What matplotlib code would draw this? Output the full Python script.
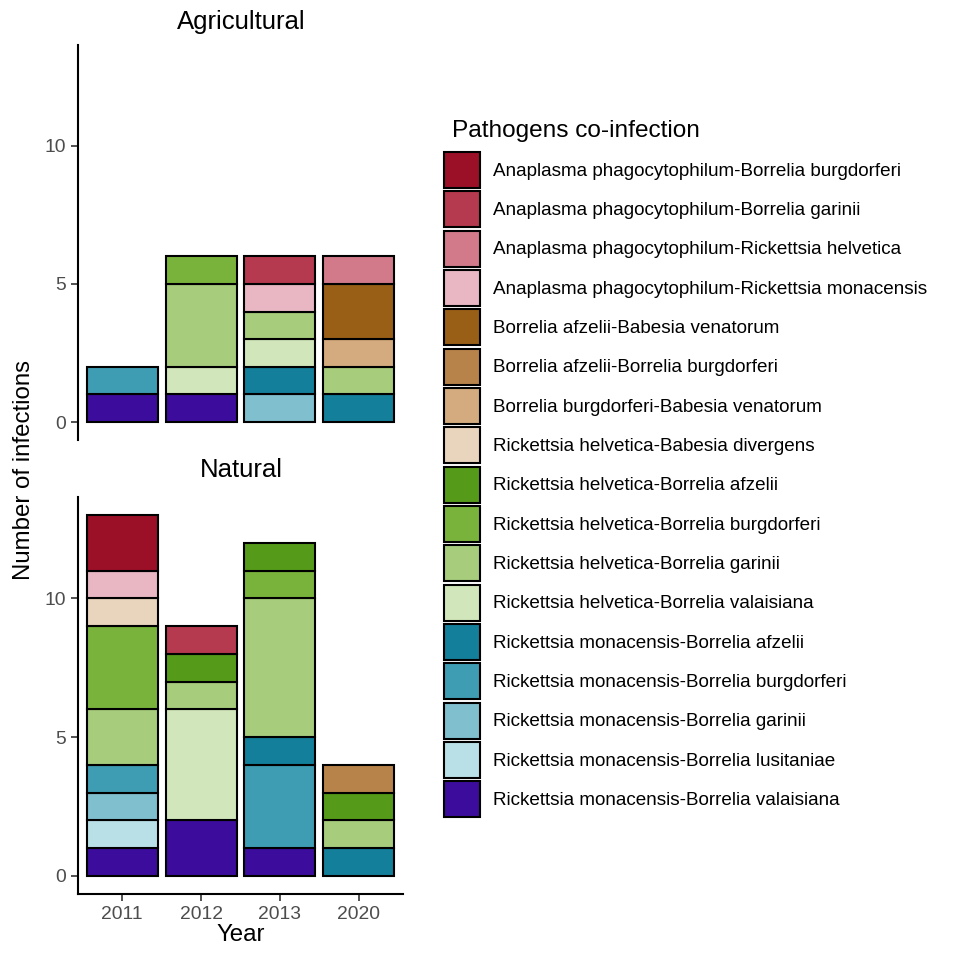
import numpy as np
from matplotlib import pyplot as plt
from matplotlib.patches import Patch

plt.rcParams['font.family'] = ['Liberation Sans', 'DejaVu Sans']

years = ['2011', '2012', '2013', '2020']

pathogens = [
    'Anaplasma phagocytophilum-Borrelia burgdorferi',
    'Anaplasma phagocytophilum-Borrelia garinii',
    'Anaplasma phagocytophilum-Rickettsia helvetica',
    'Anaplasma phagocytophilum-Rickettsia monacensis',
    'Borrelia afzelii-Babesia venatorum',
    'Borrelia afzelii-Borrelia burgdorferi',
    'Borrelia burgdorferi-Babesia venatorum',
    'Rickettsia helvetica-Babesia divergens',
    'Rickettsia helvetica-Borrelia afzelii',
    'Rickettsia helvetica-Borrelia burgdorferi',
    'Rickettsia helvetica-Borrelia garinii',
    'Rickettsia helvetica-Borrelia valaisiana',
    'Rickettsia monacensis-Borrelia afzelii',
    'Rickettsia monacensis-Borrelia burgdorferi',
    'Rickettsia monacensis-Borrelia garinii',
    'Rickettsia monacensis-Borrelia lusitaniae',
    'Rickettsia monacensis-Borrelia valaisiana',
]

colors = ['#9b1027', '#b5394f', '#d27a8a', '#e8b7c3', '#9a5f17', '#b8834a',
          '#d3ab7e', '#e9d4bd', '#559b19', '#7ab33c', '#a6cc7c', '#d2e6bb',
          '#147f9a', '#3f9db3', '#80bfce', '#b9e0e6', '#3c0d9c']

# counts per pathogen pair (rows) and year (columns)
agricultural = [
    [0, 0, 0, 0],
    [0, 0, 1, 0],
    [0, 0, 0, 1],
    [0, 0, 1, 0],
    [0, 0, 0, 2],
    [0, 0, 0, 0],
    [0, 0, 0, 1],
    [0, 0, 0, 0],
    [0, 0, 0, 0],
    [0, 1, 0, 0],
    [0, 3, 1, 1],
    [0, 1, 1, 0],
    [0, 0, 1, 1],
    [1, 0, 0, 0],
    [0, 0, 1, 0],
    [0, 0, 0, 0],
    [1, 1, 0, 0],
]

natural = [
    [2, 0, 0, 0],
    [0, 1, 0, 0],
    [0, 0, 0, 0],
    [1, 0, 0, 0],
    [0, 0, 0, 0],
    [0, 0, 0, 1],
    [0, 0, 0, 0],
    [1, 0, 0, 0],
    [0, 1, 1, 1],
    [3, 0, 1, 0],
    [2, 1, 5, 1],
    [0, 4, 0, 0],
    [0, 0, 1, 1],
    [1, 0, 3, 0],
    [1, 0, 0, 0],
    [1, 0, 0, 0],
    [1, 2, 1, 0],
]

W, H = 961, 955
fig = plt.figure(figsize=(W / 100, H / 100), dpi=100)

def px(x0, y0, x1, y1):
    return [x0 / W, 1 - y1 / H, (x1 - x0) / W, (y1 - y0) / H]

ax1 = fig.add_axes(px(78, 45, 403, 440))
ax2 = fig.add_axes(px(78, 497, 403, 894))

x = np.arange(len(years))
for ax, counts in [(ax1, agricultural), (ax2, natural)]:
    bottom = np.zeros(len(years))
    # ggplot stacks the first level on top, so draw from the last one up
    for i in range(len(pathogens) - 1, -1, -1):
        vals = np.array(counts[i], dtype=float)
        m = vals > 0
        if m.any():
            ax.bar(x[m], vals[m], bottom=bottom[m], width=0.9, color=colors[i],
                   edgecolor='black', linewidth=1.5)
        bottom += vals
    ax.set_xlim(-0.56, 3.56)
    ax.set_ylim(-0.65, 13.65)
    ax.set_yticks([0, 5, 10])
    for s in ['top', 'right']:
        ax.spines[s].set_visible(False)
    ax.spines['left'].set_linewidth(1.5)
    ax.spines['bottom'].set_linewidth(1.5)
    ax.tick_params(axis='both', labelsize=13.9, labelcolor='#4d4d4d',
                   length=5, width=1.2, color='#333333')

ax1.spines['bottom'].set_visible(False)
ax1.set_xticks([])
ax2.set_xticks(x)
ax2.set_xticklabels(years)

fig.text(241 / W, 1 - 22 / H, 'Agricultural', ha='center', va='center', fontsize=18.5)
fig.text(241 / W, 1 - 470 / H, 'Natural', ha='center', va='center', fontsize=18.5)
fig.text(24 / W, 1 - 470 / H, 'Number of infections', rotation=90,
         ha='center', va='center', fontsize=17.3)
fig.text(241 / W, 1 - 935 / H, 'Year', ha='center', va='center', fontsize=17.3)

fig.text(452 / W, 1 - 131 / H, 'Pathogens co-infection', ha='left', va='center',
         fontsize=17.6)

handles = [Patch(facecolor=c, edgecolor='black', linewidth=1.5) for c in colors]
fig.legend(handles, pathogens, loc='upper left', bbox_to_anchor=(444 / W, 1 - 152 / H),
           frameon=False, fontsize=13.56, handlelength=1.91, handleheight=2.563,
           labelspacing=0.177, handletextpad=0.69, borderpad=0, borderaxespad=0)

fig.savefig('out.png', dpi=100)
